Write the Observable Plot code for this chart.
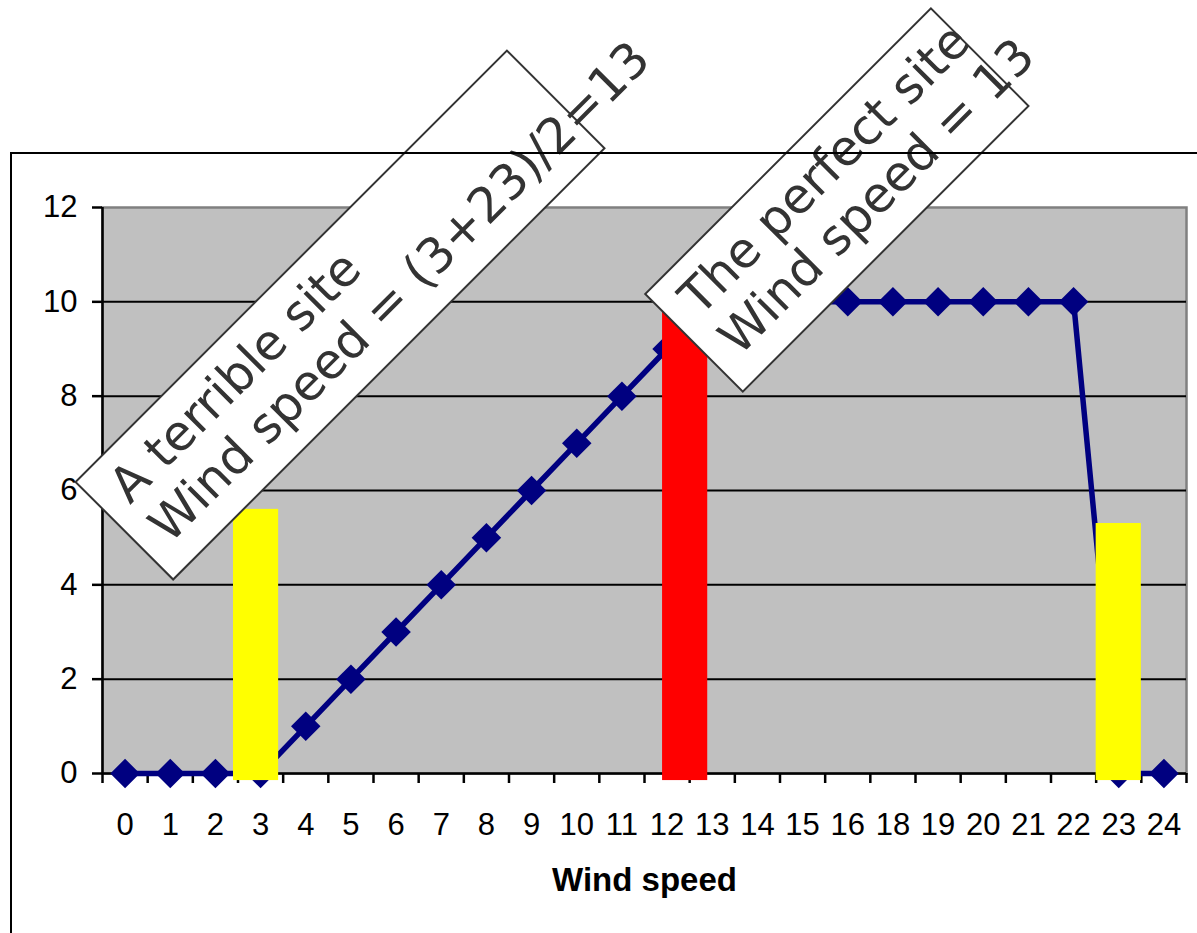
<!DOCTYPE html>
<html>
<head>
<meta charset="utf-8">
<script src="https://cdn.jsdelivr.net/npm/d3@7"></script>
<script src="https://cdn.jsdelivr.net/npm/@observablehq/plot@0.6"></script>
<style>
  html, body { margin: 0; padding: 0; background: #fff; }
  #wrap { position: relative; width: 1197px; height: 933px; overflow: hidden; }
  #border { position: absolute; left: 10px; top: 152px; right: -10px; bottom: -10px;
            border-left: 2.5px solid #000; border-top: 2.5px solid #000; pointer-events: none; }
  #chart { position: absolute; left: 0; top: 0; }
</style>
</head>
<body>
<div id="wrap">
  <div id="chart"></div>
  <div id="border"></div>
</div>
<script>
// Wind speed categories along the x axis (17 is not listed)
const speeds = ["0","1","2","3","4","5","6","7","8","9","10","11","12","13","14","15","16","18","19","20","21","22","23","24"];
// Turbine output at each wind speed
const output = [0,0,0,0,1,2,3,4,5,6,7,8,9,10,10,10,10,10,10,10,10,10,0,0];

// Highlight columns: where they sit along the axis (in category units), their height and colour
const highlightAt = [3.4, 12.9, 22.5];
const highlightTop = [5.6, 10, 5.3];
const highlightColor = ["#ffff00", "#ff0000", "#ffff00"];
const barBase = -0.15;

// Callout notes
const noteLines = [
  ["A terrible site", "Wind speed = (3+23)/2=13"],
  ["The perfect site", "Wind speed = 13"]
];
// Callout anchors (centre, in axis units) and box sizes in pixels
const noteLayout = [
  {x: 5.27, y: 9.71, w: 610, h: 138},
  {x: 16.27, y: 12.15, w: 404, h: 138}
];

const yTicks = [0, 2, 4, 6, 8, 10, 12];

const points = output.map((v, i) => ({pos: i + 0.5, v}));
const highlights = highlightAt.map((at, i) => ({at, top: highlightTop[i], color: highlightColor[i]}));

function callouts(index, scales) {
  const g = d3.create("svg:g");
  noteLayout.forEach((n, k) => {
    const cx = scales.x(n.x), cy = scales.y(n.y);
    const box = g.append("g").attr("transform", `translate(${cx},${cy}) rotate(-45)`);
    box.append("rect")
      .attr("x", -n.w / 2).attr("y", -n.h / 2)
      .attr("width", n.w).attr("height", n.h)
      .attr("fill", "#fff").attr("stroke", "#333").attr("stroke-width", 2);
    const text = box.append("text")
      .attr("font-family", "DejaVu Sans")
      .attr("font-size", 49)
      .attr("fill", "#333")
      .attr("text-anchor", "start");
    noteLines[k].forEach((line, j) => {
      text.append("tspan")
        .attr("x", -n.w / 2 + 22)
        .attr("y", j === 0 ? -14 : 42)
        .text(line);
    });
  });
  return g.node();
}

const chart = Plot.plot({
  width: 1197,
  height: 933,
  marginLeft: 102,
  marginRight: 11,
  marginTop: 207,
  marginBottom: 160,
  style: {fontFamily: "'Liberation Sans', Arial, sans-serif", fontSize: "31px", color: "#000", background: "transparent", overflow: "visible"},
  x: {type: "linear", domain: [0, 24]},
  y: {domain: [0, 12]},
  color: {type: "identity"},
  marks: [
    Plot.frame({fill: "#c0c0c0", stroke: "#808080", strokeWidth: 2.5}),
    Plot.ruleY([2, 4, 6, 8, 10], {stroke: "#000", strokeWidth: 2}),
    Plot.ruleX([0], {stroke: "#000", strokeWidth: 2.5}),
    Plot.ruleY([0], {stroke: "#000", strokeWidth: 2.5}),
    Plot.axisY(yTicks, {tickSize: 10, tickPadding: 15, strokeWidth: 2.5, fontSize: 31, label: null}),
    Plot.axisX(d3.range(25), {tickSize: 10, strokeWidth: 2.5, tickFormat: () => "", label: null}),
    Plot.axisX(points.map(d => d.pos), {tickSize: 0, tickPadding: 39, fontSize: 31,
      tickFormat: d => speeds[Math.floor(d)], label: null}),
    Plot.line(points, {x: "pos", y: "v", stroke: "#000080", strokeWidth: 5.5}),
    Plot.dot(points, {x: "pos", y: "v", symbol: "diamond2", r: 13.3, fill: "#000080", stroke: "none"}),
    Plot.rect(highlights, {x1: d => d.at - 0.5, x2: d => d.at + 0.5, y1: barBase, y2: "top", fill: "color"}),
    Plot.text(["Wind speed"], {frameAnchor: "bottom", dy: 117, lineAnchor: "bottom",
      fontWeight: "bold", fontSize: 33, fill: "#000"}),
    callouts
  ]
});

document.getElementById("chart").appendChild(chart);
</script>
</body>
</html>
